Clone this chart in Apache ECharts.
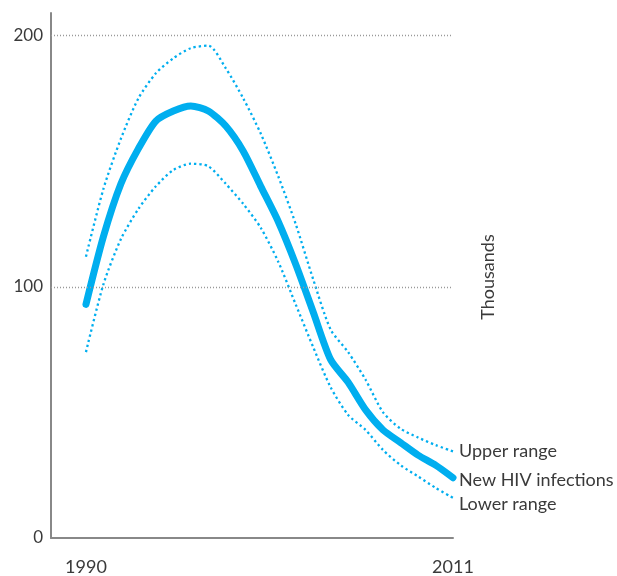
<!DOCTYPE html>
<html>
<head>
<meta charset="utf-8">
<script src="https://cdn.jsdelivr.net/npm/echarts@6/dist/echarts.min.js"></script>
<style>
  html, body { margin: 0; padding: 0; background: #fff; }
  #chart { width: 617px; height: 576px; }
</style>
</head>
<body>
<div id="chart"></div>
<script>
const years = [1990, 1991, 1992, 1993, 1994, 1995, 1996, 1997, 1998, 1999, 2000,
  2001, 2002, 2003, 2004, 2005, 2006, 2007, 2008, 2009, 2010, 2011];
const newInfections = [93, 120, 141, 155, 166, 170, 172, 170, 164, 154, 140,
  126, 109, 90, 71, 62, 51, 43, 38, 33, 29, 24];
const upperRange = [112, 139, 159, 175, 185, 191, 195, 196, 187, 175, 161,
  144, 125, 103, 83, 74, 63, 50, 43.5, 40, 37, 34.5];
const lowerRange = [74, 101, 119, 131, 140, 146.5, 149, 148, 141, 133, 123.5,
  110, 93, 76, 60, 49, 43, 35, 29, 24.5, 20, 16];
const yTicks = [0, 100, 200];
const xTickLabels = [1990, 2011];

const blue = "#00aeef";
const textColor = "#3a3a3a";
const fontFamily = "Lato, 'Open Sans', sans-serif";

const pairs = (vals) => years.map((y, i) => [y, vals[i]]);

const chart = echarts.init(document.getElementById("chart"));

const rangeSeries = (name, vals, offsetY) => ({
  name,
  type: "line",
  data: pairs(vals),
  showSymbol: false,
  smooth: 0.25,
  z: 2,
  lineStyle: { color: blue, width: 2.3, type: [2.3, 3] },
  endLabel: {
    show: true,
    formatter: "{a}",
    distance: 6,
    offset: [0, offsetY],
    color: textColor,
    fontSize: 18,
    fontFamily,
  },
});

chart.setOption({
  animation: false,
  grid: { left: 51, right: 164, top: 13, bottom: 38 },
  xAxis: {
    type: "value",
    min: 1988,
    max: 2011,
    interval: 1,
    axisLine: { lineStyle: { color: "#888", width: 2 } },
    axisTick: { show: false },
    splitLine: { show: false },
    axisLabel: {
      margin: 20,
      color: textColor,
      fontSize: 18,
      fontFamily,
      showMaxLabel: true,
      formatter: (v) => (xTickLabels.includes(v) ? String(v) : ""),
    },
  },
  yAxis: {
    type: "value",
    min: 0,
    max: 209,
    interval: 100,
    axisLine: { show: true, lineStyle: { color: "#888", width: 2 } },
    axisTick: { show: false },
    splitLine: { show: false },
    axisLabel: {
      margin: 8,
      color: textColor,
      fontSize: 17,
      fontFamily,
      padding: [0, 0, 6, 0],
      showMaxLabel: false,
      formatter: (v) => (yTicks.includes(v) ? String(v) : ""),
    },
  },
  graphic: [
    {
      type: "text",
      x: 488,
      y: 277,
      rotation: Math.PI / 2,
      style: {
        text: "Thousands",
        fill: textColor,
        fontSize: 18,
        fontFamily,
        align: "center",
        verticalAlign: "middle",
      },
    },
  ],
  series: [
    rangeSeries("Upper range", upperRange, 0),
    rangeSeries("Lower range", lowerRange, 6),
    {
      name: "New HIV infections",
      type: "line",
      data: pairs(newInfections),
      showSymbol: false,
      smooth: 0.25,
      z: 3,
      lineStyle: { color: blue, width: 7, cap: "round", join: "round" },
      endLabel: {
        show: true,
        formatter: "{a}",
        distance: 6,
        offset: [0, 2],
        color: textColor,
        fontSize: 18,
        fontFamily,
      },
      markLine: {
        silent: true,
        symbol: "none",
        label: { show: false },
        lineStyle: { color: "#999", width: 1.3, type: [1, 2] },
        data: yTicks.filter((t) => t > 0).map((t) => ({ yAxis: t })),
      },
    },
  ],
});

window.addEventListener("resize", () => chart.resize());
</script>
</body>
</html>
